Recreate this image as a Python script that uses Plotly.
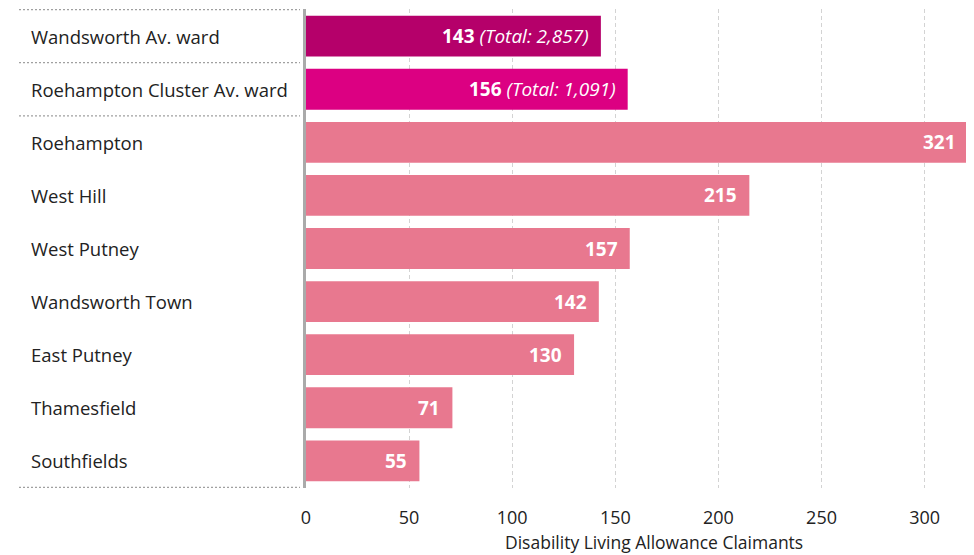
import plotly.graph_objects as go

categories = ["Wandsworth Av. ward", "Roehampton Cluster Av. ward", "Roehampton", "West Hill",
              "West Putney", "Wandsworth Town", "East Putney", "Thamesfield", "Southfields"]
values = [143, 156, 321, 215, 157, 142, 130, 71, 55]
totals = [2857, 1091, None, None, None, None, None, None, None]
colors = ["#B5006A", "#DC0082"] + ["#E8788F"] * 7
tick_vals = [0, 50, 100, 150, 200, 250, 300]

FONT = "Open Sans"
W, H = 966, 547
L, R, T, B = 298, 4, 1, 67
pw = W - L - R
ph = H - T - B

fig = go.Figure(go.Bar(
    y=categories, x=values, orientation="h",
    marker=dict(color=colors, line=dict(width=0)),
    width=0.77, hoverinfo="skip",
))

annotations = []
for c in categories:
    annotations.append(dict(xref="paper", yref="y", x=-(L - 21) / pw, y=c, text=c,
                            xanchor="left", yanchor="middle", showarrow=False,
                            font=dict(size=18.5, color="#222", family=FONT)))
for c, v, t in zip(categories, values, totals):
    s = f"<b>{v}</b>"
    if t is not None:
        s += f" <i>(Total: {t:,})</i>"
    annotations.append(dict(xref="x", yref="y", x=v, y=c, text=s, xanchor="right",
                            yanchor="middle", xshift=-10, showarrow=False,
                            font=dict(size=19, color="white", family=FONT)))
annotations.append(dict(xref="paper", yref="paper", x=(646 - L) / pw, y=-(534 - (H - B)) / ph,
                        text="Disability Living Allowance Claimants", showarrow=False,
                        xanchor="center", yanchor="middle",
                        font=dict(size=17.5, color="#222", family=FONT)))

shapes = []
for yy in [-0.5, 0.5, 1.5, len(categories) - 0.5]:
    shapes.append(dict(type="line", xref="paper", yref="y", x0=-(L - 11) / pw, x1=-6 / pw,
                       y0=yy, y1=yy, line=dict(color="#A0A0A0", width=1.2, dash="2px,2px")))
shapes.append(dict(type="line", xref="paper", yref="paper", x0=-1.5 / pw, x1=-1.5 / pw, y0=0, y1=1,
                   line=dict(color="#AAAAAA", width=3)))

fig.update_layout(
    width=W, height=H, margin=dict(l=L, r=R, t=T, b=B),
    paper_bgcolor="white", plot_bgcolor="white",
    showlegend=False, annotations=annotations, shapes=shapes,
    font=dict(family=FONT, size=18, color="#222"),
    xaxis=dict(range=[0, 322], tickvals=tick_vals, showgrid=True, gridcolor="#D3D3D3",
               griddash="4px,3px", gridwidth=1.3, zeroline=False, showline=False,
               ticks="outside", ticklen=13, tickcolor="rgba(0,0,0,0)",
               tickfont=dict(size=18, color="#222")),
    yaxis=dict(autorange="reversed", showticklabels=False, showgrid=False, zeroline=False,
               showline=False),
)

fig.write_html("out.html")
